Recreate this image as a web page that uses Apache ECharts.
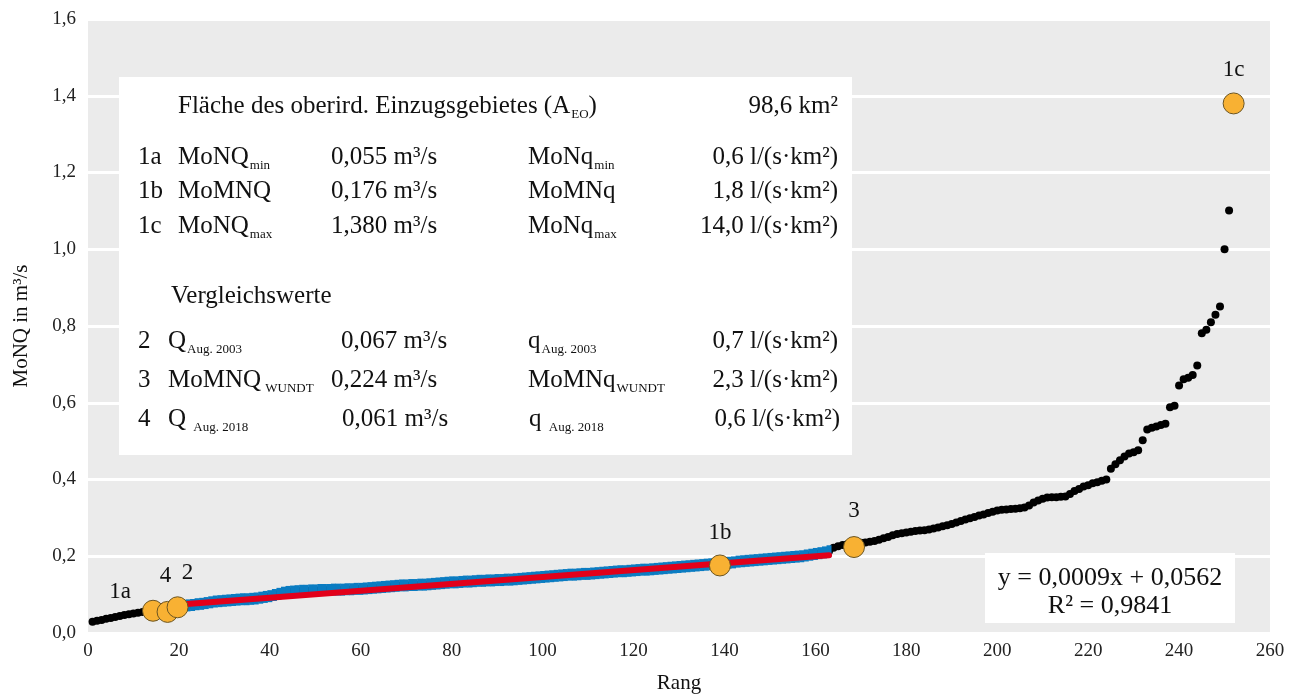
<!DOCTYPE html>
<html><head><meta charset="utf-8">
<script src="https://cdn.jsdelivr.net/npm/echarts/dist/echarts.min.js"></script>
<style>html,body{margin:0;padding:0;background:#fff}#c{width:1293px;height:699px}</style>
</head><body><div id="c"></div>
<script>
// MoNQ values by rank (rank = index + 1)
const monq = [
  0.029,0.032,0.034,0.037,0.039,0.042,0.044,0.047,0.049,0.051,
  0.053,0.055,0.057,0.058,0.060,0.062,0.064,0.066,0.068,0.068,
  0.070,0.072,0.073,0.075,0.076,0.078,0.080,0.082,0.083,0.084,
  0.085,0.086,0.087,0.088,0.088,0.089,0.090,0.092,0.094,0.096,
  0.099,0.102,0.105,0.107,0.108,0.109,0.110,0.110,0.111,0.111,
  0.112,0.112,0.112,0.113,0.113,0.113,0.114,0.114,0.115,0.115,
  0.116,0.117,0.118,0.119,0.120,0.121,0.122,0.123,0.124,0.124,
  0.125,0.125,0.126,0.126,0.127,0.128,0.129,0.130,0.131,0.132,
  0.132,0.133,0.134,0.134,0.135,0.136,0.136,0.137,0.137,0.138,
  0.138,0.139,0.139,0.140,0.141,0.142,0.143,0.144,0.145,0.146,
  0.147,0.148,0.149,0.150,0.151,0.152,0.152,0.153,0.154,0.154,
  0.155,0.156,0.157,0.158,0.159,0.160,0.161,0.161,0.162,0.163,
  0.164,0.165,0.165,0.166,0.167,0.168,0.169,0.170,0.171,0.172,
  0.173,0.174,0.175,0.176,0.177,0.178,0.179,0.180,0.181,0.182,
  0.183,0.184,0.186,0.187,0.188,0.189,0.190,0.191,0.192,0.193,
  0.194,0.195,0.196,0.197,0.198,0.199,0.200,0.202,0.204,0.206,
  0.208,0.210,0.213,0.222,0.226,0.229,0.231,0.233,0.234,0.235,
  0.236,0.238,0.240,0.243,0.247,0.250,0.255,0.258,0.260,0.262,
  0.264,0.266,0.267,0.268,0.270,0.272,0.275,0.278,0.281,0.284,
  0.288,0.292,0.296,0.299,0.302,0.306,0.309,0.313,0.316,0.319,
  0.321,0.322,0.323,0.324,0.325,0.327,0.332,0.340,0.345,0.350,
  0.353,0.354,0.354,0.355,0.356,0.362,0.370,0.375,0.382,0.385,
  0.390,0.393,0.397,0.400,0.428,
  0.440,0.450,0.460,0.468,0.471,0.476,0.502,0.530,0.535,0.538,
  0.542,0.545,0.588,0.592,0.645,0.661,0.665,0.672,0.697,0.781,
  0.790,0.810,0.829,0.851,1.000,1.101,1.380
];
// ranks highlighted in blue (regression range)
const blueRange = [20, 163];
// linear trend y = 0,0009x + 0,0562 over rank range
const trendSlope = 0.0009, trendIntercept = 0.0562;
const trendRange = [16, 163];
// marked points
const markLabels = ['1a', '4', '2', '1b', '3', '1c'];
const markRanks  = [14.3, 17.5, 19.7, 139, 168.5, 252];
const markValues = [0.058, 0.055, 0.067, 0.176, 0.224, 1.380];
const markOffsets = [[-33,-19],[-2,-36],[10,-34],[0,-33],[0,-36],[0,-33]];

const blackData = monq.map((v, i) => [i + 1, v]);
const blueData = blackData.filter(d => d[0] >= blueRange[0] && d[0] <= blueRange[1]);
const trendData = trendRange.map(x => [x, trendIntercept + trendSlope * x]);
const markData = markLabels.map((l, i) => ({
  value: [markRanks[i], markValues[i]], name: l,
  label: { offset: markOffsets[i] }
}));

const SERIF = '"Liberation Serif", serif';
const fmt = v => v.toFixed(1).replace('.', ',');

const TXT = 25;
function T(x, y, text, align) {
  return {
    type: 'text', x: x, y: y, z: 100,
    style: {
      text: text, fill: '#111', font: TXT + 'px ' + SERIF,
      align: align || 'left', verticalAlign: 'middle',
      rich: { s: { fontSize: 13, fontFamily: 'Liberation Serif', padding: [18, 0, 0, 1], fill: '#111' } }
    }
  };
}
const rows = [
  T(178, 106, 'Fläche des oberird. Einzugsgebietes (A{s|EO})'),
  T(838, 106, '98,6 km²', 'right'),
  T(138, 157, '1a'), T(178, 157, 'MoNQ{s|min}'), T(331, 157, '0,055 m³/s'), T(528, 157, 'MoNq{s|min}'), T(838, 157, '0,6 l/(s·km²)', 'right'),
  T(138, 191, '1b'), T(178, 191, 'MoMNQ'), T(331, 191, '0,176 m³/s'), T(528, 191, 'MoMNq'), T(838, 191, '1,8 l/(s·km²)', 'right'),
  T(138, 226, '1c'), T(178, 226, 'MoNQ{s|max}'), T(331, 226, '1,380 m³/s'), T(528, 226, 'MoNq{s|max}'), T(838, 226, '14,0 l/(s·km²)', 'right'),
  T(171, 296, 'Vergleichswerte'),
  T(138, 341, '2'), T(168, 341, 'Q{s|Aug. 2003}'), T(341, 341, '0,067 m³/s'), T(528, 341, 'q{s|Aug. 2003}'), T(838, 341, '0,7 l/(s·km²)', 'right'),
  T(138, 380, '3'), T(168, 380, 'MoMNQ{s| WUNDT}'), T(331, 380, '0,224 m³/s'), T(528, 380, 'MoMNq{s|WUNDT}'), T(838, 380, '2,3 l/(s·km²)', 'right'),
  T(138, 419, '4'), T(168, 419, 'Q {s|Aug. 2018}'), T(342, 419, '0,061 m³/s'), T(529, 419, 'q {s|Aug. 2018}'), T(840, 419, '0,6 l/(s·km²)', 'right')
];

const chart = echarts.init(document.getElementById('c'));
chart.setOption({
  animation: false,
  backgroundColor: '#ffffff',
  grid: { left: 88, right: 23, top: 19, bottom: 62, show: true, backgroundColor: '#ebebeb', borderWidth: 0 },
  xAxis: {
    type: 'value', min: 0, max: 260, interval: 20,
    name: 'Rang', nameLocation: 'middle', nameGap: 40,
    nameTextStyle: { fontFamily: 'Liberation Serif', fontSize: 21, color: '#111' },
    axisLine: { show: false }, axisTick: { show: false }, splitLine: { show: false },
    axisLabel: { fontFamily: 'Liberation Serif', fontSize: 19, color: '#222', margin: 9 }
  },
  yAxis: {
    type: 'value', min: 0, max: 1.6, interval: 0.2,
    name: 'MoNQ in m³/s', nameLocation: 'middle', nameGap: 56,
    nameTextStyle: { fontFamily: 'Liberation Serif', fontSize: 21, color: '#111' },
    axisLine: { show: false }, axisTick: { show: false },
    splitLine: { show: true, lineStyle: { color: '#ffffff', width: 3 } },
    axisLabel: { fontFamily: 'Liberation Serif', fontSize: 19, color: '#222', margin: 12, formatter: fmt }
  },
  graphic: [
    { type: 'rect', z: 90, shape: { x: 119, y: 77, width: 733, height: 378 }, style: { fill: '#ffffff' } },
    { type: 'rect', z: 90, shape: { x: 985, y: 553, width: 250, height: 70 }, style: { fill: '#ffffff' } },
    { type: 'text', z: 100, x: 1110, y: 578, style: { text: 'y = 0,0009x + 0,0562', font: '26px ' + SERIF, fill: '#111', align: 'center', verticalAlign: 'middle' } },
    { type: 'text', z: 100, x: 1110, y: 606, style: { text: 'R² = 0,9841', font: '26px ' + SERIF, fill: '#111', align: 'center', verticalAlign: 'middle' } }
  ].concat(rows),
  series: [
    { type: 'scatter', data: blackData, symbol: 'circle', symbolSize: 8,
      itemStyle: { color: '#000000', opacity: 1 }, z: 2, silent: true },
    { type: 'scatter', data: blueData, symbol: 'rect', symbolSize: [5, 12],
      itemStyle: { color: '#0a7cc2', opacity: 1 }, z: 3, silent: true },
    { type: 'line', data: trendData, symbol: 'none', showSymbol: false,
      lineStyle: { color: '#e2001a', width: 6, cap: 'round' }, z: 4, silent: true },
    { type: 'scatter', data: markData, symbol: 'circle', symbolSize: 21,
      itemStyle: { color: '#f8b133', borderColor: '#6b5522', borderWidth: 1, opacity: 1 }, z: 5,
      label: { show: true, position: 'inside', formatter: '{b}',
        fontFamily: 'Liberation Serif', fontSize: 23, color: '#111' } }
  ]
});
</script></body></html>
